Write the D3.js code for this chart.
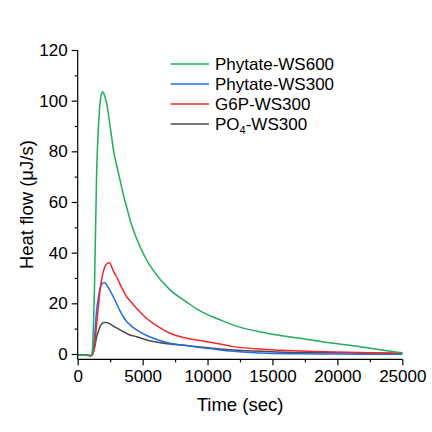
<!DOCTYPE html>
<html><head><meta charset="utf-8">
<script src="https://cdn.jsdelivr.net/npm/d3@7"></script>
<style>body{margin:0;background:#fff}svg{display:block}text{font-family:Arial,"Liberation Sans",sans-serif;fill:#000}</style>
</head><body><svg id="c" width="432" height="432"></svg>
<script>
const times = [0,500,1000,1100,1300,1460,1600,1720,1850,1925,2000,2100,2230,2440,2610,2740,3000,3260,3510,3770,4030,4540,5310,5820,7110,8390,9420,10960,11990,14550,17120,19690,21740,24820,25000];
const phytateWS600 = [-0.5,-0.5,-0.8,0,28,72,90,99,103,103.5,103,101.5,99,92,85.8,81,74.5,68.7,63,58,53,45.5,37.1,33,25.3,20.5,17,13.5,11.4,8.2,6.2,4.2,2.9,0.6,0.5];
const phytateWS300 = [-0.4,-0.4,-0.6,-0.4,7,17.4,22.5,26,27.5,28,28.1,28.1,27.3,25.5,23.8,22.6,19.8,17,14.7,12.8,11.5,9.5,7.3,6.2,4.2,3.3,2.6,1.6,1.1,0.3,0.1,0,-0.1,-0.1,-0.1];
const g6pWS300 = [-0.4,-0.4,-0.6,-0.5,3,12,19,25,29.5,31.5,33,34.5,35.5,36,34.5,32.8,30.5,27.5,25,22.6,21,18,14,12.1,8.2,6.2,5.3,3.9,2.9,1.8,1.2,0.8,0.6,0.3,0.3];
const po4WS300 = [-0.4,-0.4,-0.6,-0.5,2.5,6.8,9,10.8,11.8,12.2,12.4,12.4,12.4,12,11.5,11,10.3,9.5,8.8,8.1,7.5,6.8,5.5,4.9,3.9,3.3,2.8,2.0,1.6,1.0,0.6,0.5,0.4,0.3,0.3];
const seriesNames = ["Phytate-WS600","Phytate-WS300","G6P-WS300","PO4-WS300"];
const seriesColors = ["#1fae5a","#1f6fe3","#f0282c","#4a4a4a"];
const xTicks = [0,5000,10000,15000,20000,25000];
const yTicks = [0,20,40,60,80,100,120];

const svg = d3.select("#c");
const x = d3.scaleLinear().domain([0,25000]).range([77.7,402.3]);
const y = d3.scaleLinear().domain([-2.1,120]).range([359.3,50]);

const allSeries = [phytateWS600, phytateWS300, g6pWS300, po4WS300];
const line = d3.line().x((d,i)=>x(times[i])).y(d=>y(d)).curve(d3.curveMonotoneX);
// draw in order: black, blue, red, green? reference: green on top of others
const order = [3,1,2,0];
order.forEach(k=>{
  svg.append("path").attr("d", line(allSeries[k])).attr("fill","none")
    .attr("stroke", seriesColors[k]).attr("stroke-width",1.5);
});

// axes
const xAxis = svg.append("g").attr("transform",`translate(0,${y.range()[0]})`);
xAxis.call(d3.axisBottom(x).tickValues(xTicks).tickSize(6).tickFormat(d3.format("d")));
xAxis.append("g").call(d3.axisBottom(x).tickValues(d3.range(2500,25000,5000)).tickSize(3).tickFormat(""));
const yAxis = svg.append("g").attr("transform",`translate(${x.range()[0]},0)`);
yAxis.call(d3.axisLeft(y).tickValues(yTicks).tickSize(6));
yAxis.append("g").call(d3.axisLeft(y).tickValues(d3.range(10,120,20)).tickSize(3).tickFormat(""));
svg.selectAll(".domain").attr("stroke","#000").attr("stroke-width",1.2);
svg.selectAll(".tick line").attr("stroke","#000").attr("stroke-width",1.2);
xAxis.selectAll(".domain").filter(function(){return this.parentNode!==xAxis.node();}).remove();
yAxis.selectAll(".domain").filter(function(){return this.parentNode!==yAxis.node();}).remove();
xAxis.select(".domain").attr("d",`M${x.range()[0]},0H${x.range()[1]}`);
yAxis.select(".domain").attr("d",`M0,${y.range()[0]}V${y(120)}`);
xAxis.selectAll(".tick text").attr("font-size",17).attr("dy","0.71em").attr("y",11).style("font-family","Arial, 'Liberation Sans', sans-serif").attr("fill","#000");
yAxis.selectAll(".tick text").attr("font-size",17).attr("x",-10).style("font-family","Arial, 'Liberation Sans', sans-serif").attr("fill","#000");

svg.append("text").attr("x",240).attr("y",411).attr("text-anchor","middle").attr("font-size",18.5).text("Time (sec)");
svg.append("text").attr("transform",`translate(33,${(y.range()[0]+y(120))/2}) rotate(-90)`).attr("text-anchor","middle").attr("font-size",18.5).text("Heat flow (\u03bcJ/s)");

// legend
seriesNames.forEach((name,i)=>{
  const ly = 64 + i*20;
  svg.append("line").attr("x1",170.7).attr("x2",209).attr("y1",ly).attr("y2",ly)
    .attr("stroke",seriesColors[i]).attr("stroke-width",1.5);
  const t = svg.append("text").attr("x",215).attr("y",ly+6).attr("font-size",17);
  if (name==="PO4-WS300") {
    t.append("tspan").text("PO");
    t.append("tspan").attr("font-size",11).attr("dy",4).text("4");
    t.append("tspan").attr("dy",-4).text("-WS300");
  } else t.text(name);
});
</script></body></html>
